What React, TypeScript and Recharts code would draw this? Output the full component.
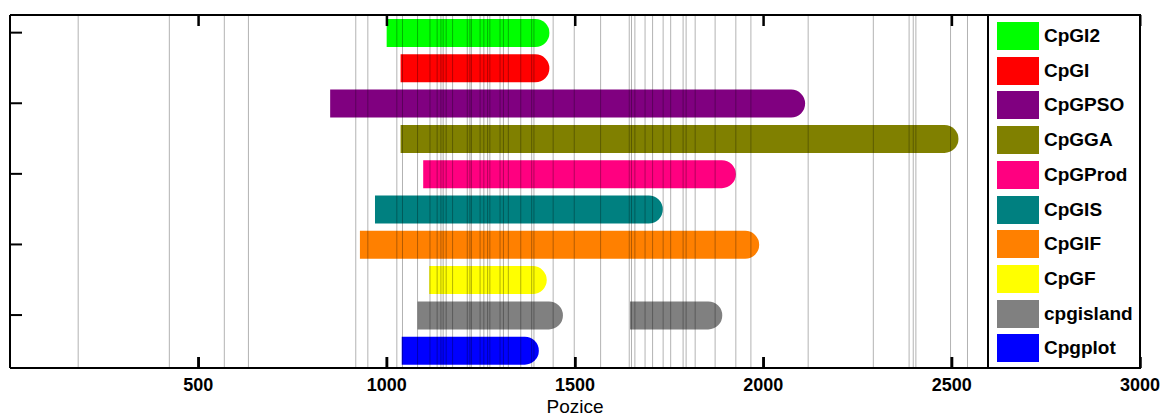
import React from 'react';
import { BarChart, Bar, XAxis, YAxis, Cell, ReferenceLine } from 'recharts';

const categories = ['CpGI2', 'CpGI', 'CpGPSO', 'CpGGA', 'CpGProd', 'CpGIS', 'CpGIF', 'CpGF', 'cpgisland', 'Cpgplot'];
const colors = ['#00ff00', '#ff0000', '#800080', '#808000', '#ff0080', '#008080', '#ff8000', '#ffff00', '#808080', '#0000ff'];
const starts = [1000, 1037, 850, 1037, 1097, 969, 929, 1113, 1082, 1040];
const ends = [1432, 1432, 2111, 2518, 1927, 1733, 1989, 1425, 1468, 1404];
const starts2: (number | null)[] = [null, null, null, null, null, null, null, null, 1646, null];
const ends2: (number | null)[] = [null, null, null, null, null, null, null, null, 1891, null];
const sitePositions = [
  181, 423, 569, 633, 918, 950, 1027, 1042, 1082, 1115, 1134, 1144, 1150, 1158, 1175,
  1214, 1221, 1225, 1248, 1258, 1268, 1274, 1301, 1310, 1323, 1356, 1385, 1391, 1442,
  1498, 1568, 1644, 1650, 1659, 1686, 1706, 1734, 1754, 1787, 1795, 1819, 1872, 1927,
  1967, 2119, 2292, 2387, 2398, 2405, 2497, 2542,
];
const xTicks = [500, 1000, 1500, 2000, 2500, 3000];
const axisTitle = 'Pozice';

const data = categories.map((name, i) => ({
  name,
  offset: starts[i],
  len: ends[i] - starts[i],
  gap: starts2[i] != null ? (starts2[i] as number) - ends[i] : 0,
  len2: starts2[i] != null ? (ends2[i] as number) - (starts2[i] as number) : 0,
}));

const FONT = '"Liberation Sans", Arial, Helvetica, sans-serif';
const TICK_LEN = 11;

const BottomTick = (props: any) => {
  const { x, y, payload } = props;
  return (
    <g>
      <rect x={x - 1} y={y - TICK_LEN} width={2.5} height={TICK_LEN} fill="#000" />
      <text x={x} y={y + 23} textAnchor="middle" fontSize={18} fontWeight="bold" fill="#000" fontFamily={FONT}>
        {payload.value}
      </text>
    </g>
  );
};

const tickShape = (props: any) => {
  const { x1, y1, y2 } = props;
  const top = Math.min(y1, y2);
  const bottom = Math.max(y1, y2);
  return (
    <g>
      <rect x={x1 - 1} y={top} width={2.5} height={TICK_LEN} fill="#000" />
      <rect x={x1 - 1} y={bottom - TICK_LEN} width={2.5} height={TICK_LEN} fill="#000" />
    </g>
  );
};

const LeftTick = (props: any) => {
  const { x, y } = props;
  return <rect x={x} y={y - 1} width={12} height={2} fill="#000" />;
};

const AxisTitle = (props: any) => {
  const vb = props.viewBox || {};
  return (
    <text x={vb.x + vb.width / 2} y={vb.y + vb.height - 4} textAnchor="middle" fontSize={19} fill="#000" fontFamily={FONT}>
      {axisTitle}
    </text>
  );
};

export default function App() {
  return (
    <div style={{ position: 'absolute', left: 0, top: 0, width: 1163, height: 417, fontFamily: FONT, background: '#fff' }}>
      <BarChart
        width={1163}
        height={417}
        data={data}
        layout="vertical"
        margin={{ top: 0, right: 0, bottom: 0, left: 0 }}
        barSize={28}
      >
        <XAxis
          type="number"
          domain={[0, 3000]}
          ticks={xTicks}
          height={49}
          axisLine={{ stroke: '#000', strokeWidth: 2 }}
          tickLine={false}
          tickSize={0}
          tickMargin={0}
          tick={<BottomTick />}
          label={<AxisTitle />}
        />
        <XAxis
          xAxisId="top"
          orientation="top"
          type="number"
          domain={[0, 3000]}
          ticks={xTicks}
          height={15}
          axisLine={{ stroke: '#000', strokeWidth: 2 }}
          tickLine={false}
          tick={false}
        />
        <YAxis
          type="category"
          dataKey="name"
          width={10}
          interval={1}
          axisLine={{ stroke: '#000', strokeWidth: 2 }}
          tickLine={false}
          tickSize={0}
          tickMargin={0}
          tick={<LeftTick />}
        />
        <YAxis
          yAxisId="right"
          orientation="right"
          type="category"
          dataKey="name"
          width={23}
          axisLine={{ stroke: '#000', strokeWidth: 2 }}
          tickLine={false}
          tick={false}
        />
        <Bar dataKey="offset" stackId="s" fill="transparent" isAnimationActive={false} />
        <Bar dataKey="len" stackId="s" radius={[0, 14, 14, 0]} isAnimationActive={false}>
          {data.map((d, i) => (
            <Cell key={d.name} fill={colors[i]} />
          ))}
        </Bar>
        <Bar dataKey="gap" stackId="s" fill="transparent" isAnimationActive={false} />
        <Bar dataKey="len2" stackId="s" radius={[0, 14, 14, 0]} isAnimationActive={false}>
          {data.map((d, i) => (
            <Cell key={d.name} fill={colors[i]} />
          ))}
        </Bar>
        {sitePositions.map((p, i) => (
          <ReferenceLine key={i} x={p} stroke="#000" strokeOpacity={0.3} strokeWidth={1} />
        ))}
        {xTicks.map((t) => (
          <ReferenceLine key={'t' + t} x={t} stroke="#000" shape={tickShape} />
        ))}
      </BarChart>
      <div
        style={{
          position: 'absolute',
          left: 987,
          top: 14,
          width: 154,
          height: 355,
          boxSizing: 'border-box',
          border: '2px solid #000',
          background: '#fff',
        }}
      >
        {categories.map((c, i) => (
          <div key={c} style={{ position: 'absolute', left: 8, top: 6 + i * 34.7, height: 28, display: 'flex', alignItems: 'center' }}>
            <div style={{ width: 42, height: 28, background: colors[i] }} />
            <div style={{ marginLeft: 5, fontSize: 19, fontWeight: 'bold', lineHeight: '28px', color: '#000', whiteSpace: 'nowrap' }}>{c}</div>
          </div>
        ))}
      </div>
    </div>
  );
}
